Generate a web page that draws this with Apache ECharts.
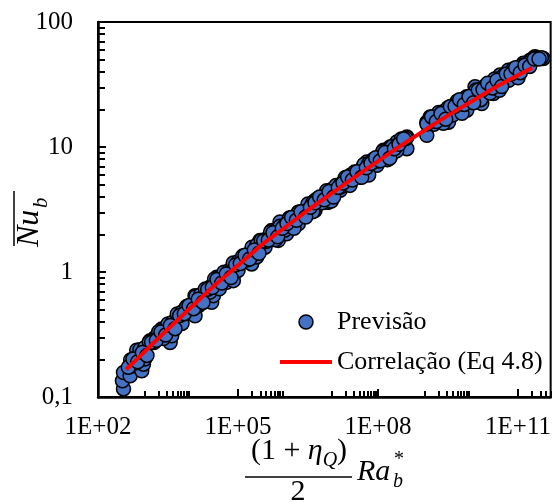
<!DOCTYPE html>
<html>
<head>
<meta charset="utf-8">
<script src="https://cdn.jsdelivr.net/npm/echarts@6/dist/echarts.min.js"></script>
<style>
  html, body { margin: 0; padding: 0; background: #ffffff; }
  #chart { width: 554px; height: 502px; }
</style>
</head>
<body>
<div id="chart"></div>
<script>
// Previsão: predicted mean Nusselt number vs. modified Rayleigh number
const prevX = [
  352, 334, 352, 489, 528, 866, 942, 676, 1023, 1310,
  1675, 2320, 3510, 3800, 3510, 5740, 7960, 1.2e4, 1.2e4, 1.42e4,
  2.73e4, 2.97e4, 3.49e4, 3.49e4, 5.71e4, 7.94e4, 7.94e4, 9.35e4, 1.96e5, 1.96e5,
  2.96e5, 3.79e5, 5.25e5, 7.3e5, 7.94e5, 1.1e6, 1.41e6, 1.96e6, 1.96e6, 4.46e6,
  4.46e6, 8.59e6, 1.01e7, 1.41e7,
  2.54e6, 4.16e6, 8.05e6, 8.71e6, 1.55e7, 1.82e7, 2.54e7, 4.16e7, 4.52e7, 5.78e7,
  9.46e7, 1.11e8, 1.31e8, 1.82e8, 1.82e8, 2.54e8, 4.15e8, 4.15e8, 1.11e9, 1.11e9,
  1.31e9, 2.14e9, 3.23e9, 3.51e9, 5.28e9, 7.98e9, 8.64e9, 1.2e10, 1.67e10, 1.81e10,
  2.97e10, 3.22e10, 4.12e10, 6.21e10, 9.4e10, 1.3e11, 1.81e11, 2.31e11, 3.48e11, 2.1e11,
  5.01e2, 6.31e2, 7.94e2, 1e3, 1.26e3, 1.58e3, 2e3, 2.51e3, 3.16e3, 3.98e3,
  5.01e3, 6.31e3, 7.94e3, 1e4, 1.26e4, 1.58e4, 2e4, 2.51e4, 3.16e4, 3.98e4,
  5.01e4, 6.31e4, 7.94e4, 1e5, 1.26e5, 1.58e5, 2e5, 2.51e5, 3.16e5, 3.98e5,
  5.01e5, 6.31e5, 7.94e5, 1e6, 1.26e6, 1.58e6, 2e6, 2.51e6, 3.16e6, 3.98e6,
  5.01e6, 6.31e6, 7.94e6, 1e7, 1.26e7, 1.58e7, 2e7, 2.51e7, 3.16e7, 3.98e7,
  5.01e7, 6.31e7, 7.94e7, 1e8, 1.26e8, 1.58e8, 2e8, 2.51e8, 3.16e8, 3.98e8,
  1.26e9, 1.58e9, 2e9, 2.51e9, 3.16e9, 3.98e9, 5.01e9, 6.31e9, 7.94e9,
  1e10, 1.26e10, 1.58e10, 2e10, 2.51e10, 3.16e10, 3.98e10, 5.01e10, 6.31e10, 7.94e10,
  1e11, 1.26e11, 1.58e11, 2e11, 2.51e11, 3.16e11,
  6.31e2, 1e3, 1.58e3, 2.51e3, 3.98e3, 6.31e3, 1e4, 1.58e4, 2.51e4, 3.98e4,
  6.31e4, 1e5, 1.58e5, 2.51e5, 3.98e5, 6.31e5, 1e6, 1.58e6, 2.51e6, 3.98e6,
  6.31e6, 1e7, 1.58e7, 2.51e7, 3.98e7, 6.31e7, 1e8, 1.58e8, 2.51e8,
  1.58e9, 2.51e9, 3.98e9, 6.31e9, 1e10, 1.58e10, 2.51e10, 3.98e10, 6.31e10, 1e11,
  4.47e2, 5.62e2, 7.08e2, 8.91e2, 1.12e3, 1.41e3, 1.78e3, 2.24e3, 2.82e3, 3.55e3,
  4.47e3, 5.62e3, 7.08e3, 8.91e3, 1.12e4, 1.41e4, 1.78e4, 2.24e4, 2.82e4, 3.55e4,
  4.47e4, 5.62e4, 7.08e4, 8.91e4, 1.12e5, 1.41e5, 1.78e5, 2.24e5, 2.82e5, 3.55e5,
  4.47e5, 5.62e5, 7.08e5, 8.91e5,
  1.12e6, 1.41e6, 1.78e6, 2.24e6, 2.82e6, 3.55e6, 4.47e6, 5.62e6, 7.08e6, 8.91e6,
  1.12e7, 1.41e7, 1.78e7, 2.24e7, 2.82e7, 3.55e7, 4.47e7, 5.62e7, 7.08e7, 8.91e7,
  1.12e8, 1.41e8, 1.78e8, 2.24e8, 2.82e8, 3.55e8,
  1.12e9, 1.41e9, 1.78e9, 2.24e9, 2.82e9, 3.55e9, 4.47e9, 5.62e9, 7.08e9, 8.91e9,
  1.12e10, 1.41e10, 1.78e10, 2.24e10, 2.82e10, 3.55e10, 4.47e10, 5.62e10, 7.08e10, 8.91e10,
  1.12e11, 1.41e11, 1.78e11, 2.24e11, 2.82e11
];
const prevY = [
  0.116, 0.135, 0.157, 0.148, 0.177, 0.162, 0.183, 0.237, 0.220, 0.282,
  0.299, 0.350, 0.273, 0.309, 0.384, 0.461, 0.506, 0.447, 0.647, 0.538,
  0.572, 0.647, 0.906, 0.803, 0.827, 0.853, 1.16, 1.09, 1.16, 1.44,
  1.79, 1.58, 2.15, 1.79, 2.51, 2.02, 2.67, 3.01, 2.43, 3.10,
  3.74, 3.62, 4.50, 4.93,
  3.01, 3.11, 3.62, 4.36, 4.50, 5.24, 5.93, 5.74, 6.71, 7.59,
  7.13, 8.32, 9.42, 8.32, 10.0, 10.97, 12.0, 9.7, 12.4, 15.8,
  17.4, 17.9, 15.8, 20.3, 23.0, 19.7, 23.7, 30.3, 22.3, 27.6,
  26.8, 34.3, 37.6, 41.2, 42.6, 46.7, 49.5, 52.7, 51.1, 51.1,
  0.198, 0.205, 0.239, 0.248, 0.275, 0.286, 0.333, 0.345, 0.384, 0.397,
  0.461, 0.478, 0.530, 0.548, 0.637, 0.659, 0.731, 0.757, 0.879, 0.904,
  0.995, 1.02, 1.18, 1.21, 1.34, 1.37, 1.58, 1.63, 1.79, 1.83,
  2.09, 2.13, 2.32, 2.37, 2.70, 2.75, 3.01, 3.06, 3.50, 3.56,
  3.86, 3.93, 4.47, 4.54, 4.93, 5.01, 5.70, 5.79, 6.30, 6.38,
  7.24, 7.35, 7.96, 8.07, 9.16, 9.29, 10.07, 10.2, 11.6, 11.7,
  16.5, 16.7, 18.9, 19.1, 20.6, 20.7, 23.3, 23.4, 25.2,
  25.4, 28.6, 28.7, 30.9, 31.0, 35.0, 35.0, 37.5, 37.5, 42.1,
  42.1, 45.1, 46.1, 49.4, 51.8, 51.8,
  0.187, 0.201, 0.273, 0.294, 0.362, 0.388, 0.524, 0.561, 0.690, 0.735,
  0.977, 1.03, 1.25, 1.32, 1.75, 1.81, 2.16, 2.24, 2.92, 3.03,
  3.58, 3.69, 4.79, 4.93, 5.82, 5.97, 7.71, 7.91, 9.31,
  15.2, 15.5, 18.0, 18.6, 23.1, 23.9, 27.0, 28.4, 34.2, 35.8,
  0.173, 0.201, 0.191, 0.227, 0.215, 0.274, 0.284, 0.331, 0.313, 0.373,
  0.352, 0.448, 0.464, 0.539, 0.509, 0.605, 0.571, 0.727, 0.752, 0.871,
  0.817, 0.964, 0.904, 1.14, 1.17, 1.36, 1.27, 1.50, 1.41, 1.77,
  1.80, 2.06, 1.91, 2.24,
  2.44, 2.73, 2.59, 3.03, 2.75, 3.29, 3.58, 3.99, 3.78, 4.40,
  3.98, 4.75, 5.16, 5.75, 5.44, 6.34, 5.72, 6.81, 7.39, 8.20,
  7.75, 9.02, 8.14, 9.68, 10.5, 11.6,
  15.3, 17.4, 16.0, 18.5, 16.7, 21.1, 21.2, 23.9, 21.9, 25.3,
  22.6, 28.6, 28.8, 32.4, 29.7, 34.2, 30.5, 38.4, 38.4, 43.1,
  39.3, 45.1, 44.1, 50.6, 50.6
];

// Correlação (Eq 4.8)
const corrX = [4.0e2, 1e3, 3.16e3, 1e4, 3.16e4, 1e5, 3.16e5, 1e6, 3.16e6, 1e7,
               3.16e7, 1e8, 3.16e8, 1e9, 3.16e9, 1e10, 3.16e10, 1e11, 2.0e11];
const corrY = [0.166, 0.231, 0.350, 0.524, 0.783, 1.13, 1.64, 2.26, 3.12, 4.24,
               5.74, 7.71, 10.3, 13.6, 17.9, 23.1, 29.8, 37.5, 43.1];

// Axis ticks
const xMajor = [1e2, 1e5, 1e8, 1e11];
const xMinorDecades = [3, 5, 7, 9, 11];
const yMajor = [0.1, 1, 10, 100];
const yMinorDecades = [-1, 0, 1];

const FONT = '"Liberation Serif", "Times New Roman", serif';

const xMinor = [];
xMinorDecades.forEach(function (d) {
  for (let k = 1; k <= 9; k++) {
    const v = k * Math.pow(10, d);
    if (v > 5e11) continue;
    if (k === 1 && (d === 5 || d === 11)) continue;
    xMinor.push(v);
  }
});
const yMinor = [];
yMinorDecades.forEach(function (d) {
  for (let k = 2; k <= 9; k++) yMinor.push(Number((k * Math.pow(10, d)).toPrecision(3)));
});

function fmtX(v) {
  const e = Math.round(Math.log10(v));
  return '1E+' + (e < 10 ? '0' + e : String(e));
}
function fmtY(v) {
  return String(Number(Number(v).toPrecision(3))).replace('.', ',');
}

const prevData = prevX.map(function (x, i) { return [x, prevY[i]]; });
const corrData = corrX.map(function (x, i) { return [x, corrY[i]]; });

const tickLine = { color: '#000', width: 2 };
const txt = function (extra) {
  return Object.assign({ fill: '#000', align: 'left', verticalAlign: 'middle', textAlign: 'left', textVerticalAlign: 'middle' }, extra);
};

const chart = echarts.init(document.getElementById('chart'), null, { renderer: 'canvas' });
chart.setOption({
  animation: false,
  backgroundColor: '#ffffff',
  grid: {
    left: 98, right: 3, top: 22, bottom: 105,
    show: true, borderColor: '#000', borderWidth: 2, backgroundColor: 'transparent'
  },
  xAxis: [
    {
      type: 'log', logBase: 10, min: 1e2, max: 5e11, position: 'bottom',
      axisLine: { show: true, onZero: false, lineStyle: { color: '#000', width: 2.5 } },
      axisTick: { show: true, inside: true, length: 8, customValues: xMajor, lineStyle: tickLine },
      axisLabel: { show: true, customValues: xMajor, formatter: fmtX, fontFamily: FONT, fontSize: 25, color: '#000', margin: 18 },
      splitLine: { show: false }, minorTick: { show: false }
    },
    {
      type: 'log', logBase: 10, min: 1e2, max: 5e11, position: 'bottom',
      axisLine: { show: false },
      axisTick: { show: true, inside: true, length: 6, customValues: xMinor, lineStyle: tickLine },
      axisLabel: { show: false }, splitLine: { show: false }
    }
  ],
  yAxis: [
    {
      type: 'log', logBase: 10, min: 0.1, max: 100, position: 'left',
      axisLine: { show: true, onZero: false, lineStyle: { color: '#000', width: 2.5 } },
      axisTick: { show: true, inside: true, length: 8, customValues: yMajor, lineStyle: tickLine },
      axisLabel: { show: true, customValues: yMajor, formatter: fmtY, fontFamily: FONT, fontSize: 25, color: '#000', margin: 25 },
      splitLine: { show: false }, minorTick: { show: false }
    },
    {
      type: 'log', logBase: 10, min: 0.1, max: 100, position: 'left',
      axisLine: { show: false },
      axisTick: { show: true, inside: true, length: 7, customValues: yMinor, lineStyle: tickLine },
      axisLabel: { show: false }, splitLine: { show: false }
    }
  ],
  legend: {
    orient: 'vertical', left: 280, top: 309, padding: 0,
    itemWidth: 52, itemHeight: 14, itemGap: 14,
    textStyle: { fontFamily: FONT, fontSize: 26, color: '#000', lineHeight: 26 },
    data: [
      { name: 'Previsão', icon: 'circle', itemStyle: { color: '#4472C4', borderWidth: 1.5, borderColor: '#000' } },
      { name: 'Correlação (Eq 4.8)', icon: 'path://M0,0 L52,0 L52,4 L0,4 Z', itemStyle: { color: '#FF0000', borderWidth: 0 } }
    ]
  },
  series: [
    {
      name: 'Previsão', type: 'scatter', xAxisIndex: 0, yAxisIndex: 0,
      data: prevData, symbol: 'circle', symbolSize: 14,
      itemStyle: { color: '#4472C4', borderColor: '#000', borderWidth: 1.5, opacity: 1 },
      z: 2
    },
    {
      name: 'Correlação (Eq 4.8)', type: 'line', xAxisIndex: 0, yAxisIndex: 0,
      data: corrData, symbol: 'none', showSymbol: false, smooth: 0.3,
      lineStyle: { color: '#FF0000', width: 4 }, itemStyle: { color: '#FF0000' },
      z: 3
    }
  ],
  graphic: [
    // vertical axis title: mean Nusselt number with overline
    {
      type: 'group', x: 41, y: 247, rotation: Math.PI / 2,
      children: [
        { type: 'text', x: 0, y: -11, style: txt({ text: 'Nu', font: 'italic 32px ' + FONT }) },
        { type: 'text', x: 39, y: 0, style: txt({ text: 'b', font: 'italic 21px ' + FONT }) },
        { type: 'line', shape: { x1: 1, y1: -27, x2: 56, y2: -27 }, style: { stroke: '#000', lineWidth: 1.5 } }
      ]
    },
    // horizontal axis title: (1 + ηQ)/2 · Ra*b
    {
      type: 'text', x: 299, y: 451,
      style: {
        text: '{n|(1 + }{i|η}{s|Q}{n|)}',
        align: 'center', verticalAlign: 'middle', textAlign: 'center', textVerticalAlign: 'middle',
        fill: '#000',
        rich: {
          n: { fontFamily: FONT, fontSize: 30, lineHeight: 40, color: '#000' },
          i: { fontFamily: FONT, fontSize: 30, fontStyle: 'italic', lineHeight: 40, color: '#000' },
          s: { fontFamily: FONT, fontSize: 20, fontStyle: 'italic', lineHeight: 20, verticalAlign: 'bottom', color: '#000' }
        }
      }
    },
    { type: 'line', shape: { x1: 245, y1: 477, x2: 352, y2: 477 }, style: { stroke: '#000', lineWidth: 1.5 } },
    { type: 'text', x: 298, y: 492, style: txt({ text: '2', font: '30px ' + FONT, align: 'center', textAlign: 'center' }) },
    { type: 'text', x: 357, y: 472, style: txt({ text: 'Ra', font: 'italic 30px ' + FONT }) },
    { type: 'text', x: 394, y: 460, style: txt({ text: '*', font: '20px ' + FONT }) },
    { type: 'text', x: 393, y: 482, style: txt({ text: 'b', font: 'italic 20px ' + FONT }) }
  ]
});
</script>
</body>
</html>
